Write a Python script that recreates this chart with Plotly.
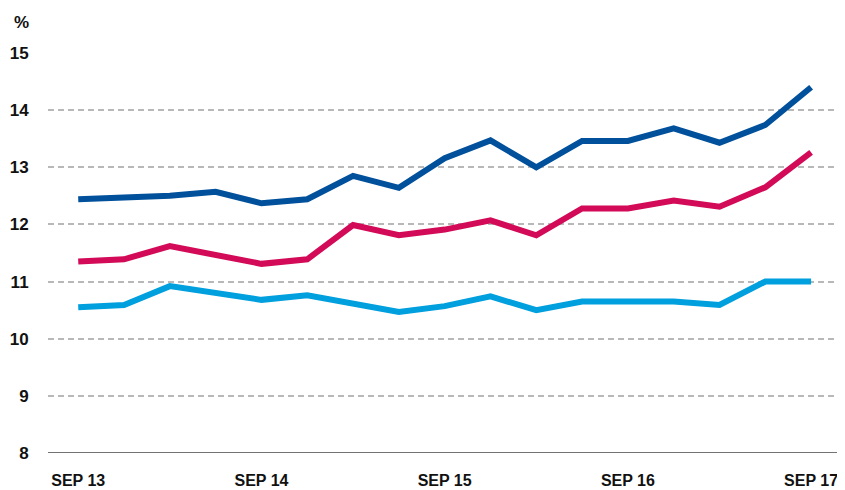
import plotly.graph_objects as go

quarters = ["SEP 13", "DEC 13", "MAR 14", "JUN 14", "SEP 14", "DEC 14", "MAR 15", "JUN 15",
            "SEP 15", "DEC 15", "MAR 16", "JUN 16", "SEP 16", "DEC 16", "MAR 17", "JUN 17", "SEP 17"]
tick_labels = ["SEP 13", "SEP 14", "SEP 15", "SEP 16", "SEP 17"]

series_dark = [12.44, 12.47, 12.50, 12.57, 12.37, 12.44, 12.85, 12.64, 13.16,
               13.47, 13.00, 13.46, 13.46, 13.68, 13.43, 13.74, 14.40]
series_red = [11.35, 11.39, 11.62, 11.46, 11.31, 11.39, 11.99, 11.81, 11.91,
              12.07, 11.81, 12.28, 12.28, 12.42, 12.31, 12.65, 13.26]
series_light = [10.55, 10.59, 10.92, 10.79, 10.68, 10.76, 10.62, 10.47, 10.57,
                10.74, 10.50, 10.65, 10.65, 10.65, 10.59, 11.00, 11.00]

colors = ["#00509B", "#D20A57", "#009FDD"]

fig = go.Figure()
for ys, c in zip([series_dark, series_red, series_light], colors):
    fig.add_trace(go.Scatter(x=quarters, y=ys, mode="lines",
                             line=dict(color=c, width=6),
                             showlegend=False, hoverinfo="skip"))

font_bold = dict(family="Liberation Sans, Arial, sans-serif", size=17, color="#111111", weight="bold")

fig.update_layout(
    width=837, height=482,
    margin=dict(l=40, r=0, t=45, b=37),
    paper_bgcolor="white", plot_bgcolor="white",
    xaxis=dict(
        type="category",
        categoryorder="array", categoryarray=quarters,
        range=[-0.66, 16.74],
        tickmode="array", tickvals=tick_labels, ticktext=tick_labels,
        showgrid=False, zeroline=False,
        showline=False,
        ticks="outside", ticklen=13, tickcolor="rgba(0,0,0,0)",
        tickfont=dict(family="Liberation Sans, Arial, sans-serif", size=16, color="#111111", weight="bold"),
    ),
    yaxis=dict(
        range=[8, 15],
        tickmode="array", tickvals=[8, 9, 10, 11, 12, 13, 14, 15],
        showgrid=True, gridcolor="#B8B8B8", gridwidth=1.5, griddash="6px,4px",
        zeroline=False, showline=False,
        ticks="outside", ticklen=15, tickcolor="rgba(0,0,0,0)",
        tickfont=font_bold,
    ),
    shapes=[dict(type="line", xref="paper", yref="y", x0=0, x1=1, y0=8, y1=8,
                 line=dict(color="#444444", width=1.5))],
    annotations=[dict(text="%", xref="paper", yref="paper", x=-0.045, y=1.0, yshift=31,
                      xanchor="left", yanchor="middle", showarrow=False, font=font_bold)],
)

fig.write_html("out.html")
